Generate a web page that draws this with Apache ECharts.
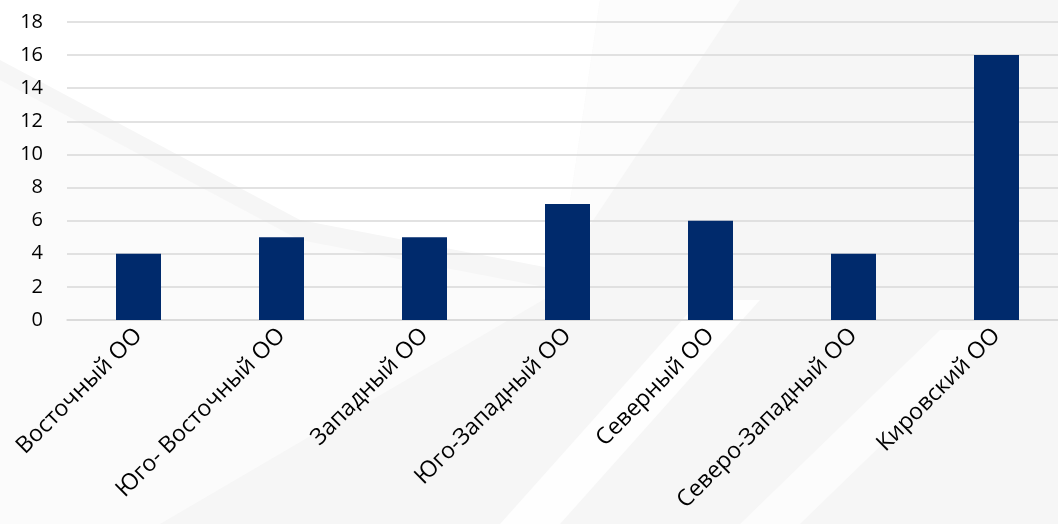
<!DOCTYPE html>
<html><head><meta charset="utf-8">
<script src="https://cdn.jsdelivr.net/npm/echarts@6/dist/echarts.min.js"></script>
<style>html,body{margin:0;padding:0;}#c{width:1058px;height:524px;}</style>
</head><body><div id="c"></div>
<script>
var categories = ['Восточный ОО','Юго- Восточный ОО','Западный ОО','Юго-Западный ОО','Северный ОО','Северо-Западный ОО','Кировский ОО'];
var values = [4,5,5,7,6,4,16];
var yTicks = {min:0, max:18, interval:2};

var chart = echarts.init(document.getElementById('c'));
chart.setOption({
  backgroundColor: '#f6f6f6',
  graphic: [
    {type:'polygon', z:-10, silent:true, shape:{points:[[0,0],[600,0],[560,270],[300,220],[0,60]]}, style:{fill:'#ffffff'}},
    {type:'polygon', z:-10, silent:true, shape:{points:[[600,0],[740,0],[560,270]]}, style:{fill:'#fcfcfc'}},
    {type:'polygon', z:-10, silent:true, shape:{points:[[0,80],[300,240],[560,290],[160,524],[0,524]]}, style:{fill:'#fbfbfb'}},
    {type:'polygon', z:-10, silent:true, shape:{points:[[700,300],[760,300],[560,524],[500,524]]}, style:{fill:'#fefefe'}},
    {type:'polygon', z:-10, silent:true, shape:{points:[[940,330],[1000,330],[800,524],[740,524]]}, style:{fill:'#fcfcfc'}}
  ],
  grid: {left: 67, width: 1001, top: 22, bottom: 204, containLabel: false, outerBoundsMode: 'none'},
  xAxis: {
    type: 'category',
    data: categories,
    axisLine: {show: true, lineStyle: {color: '#d9d9d9', width: 1.5}},
    axisTick: {show: false},
    axisLabel: {rotate: 45, interval: 0, color: '#000', fontSize: 23, fontFamily: 'Open Sans', margin: 12}
  },
  yAxis: {
    type: 'value',
    min: yTicks.min, max: yTicks.max, interval: yTicks.interval,
    axisLine: {show: false},
    axisTick: {show: false},
    splitLine: {lineStyle: {color: '#d9d9d9', width: 1.5}},
    axisLabel: {color: '#000', fontSize: 20, fontFamily: 'Open Sans', margin: 24}
  },
  series: [{
    type: 'bar',
    data: values,
    barWidth: 45,
    itemStyle: {color: '#002a6c'}
  }]
});
</script></body></html>
